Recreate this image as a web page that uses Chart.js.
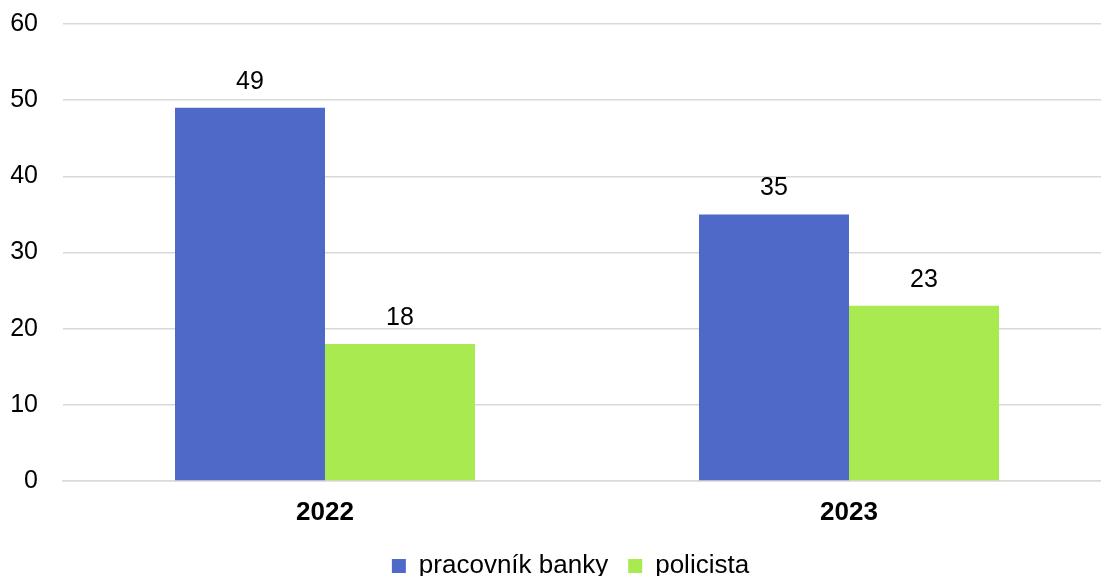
<!DOCTYPE html>
<html>
<head>
<meta charset="utf-8">
<script src="https://cdn.jsdelivr.net/npm/chart.js@4"></script>
<style>
  html, body { margin: 0; padding: 0; background: #fff; overflow: hidden; }
  #wrap { width: 1111px; height: 589px; }
</style>
</head>
<body>
<div id="wrap"><canvas id="myChart"></canvas></div>
<script>
const years = ['2022', '2023'];
const bankWorker = [49, 35];
const policeman = [18, 23];
const yTicks = [0, 10, 20, 30, 40, 50, 60];

Chart.defaults.font.family = '"Liberation Sans", Arial, sans-serif';
Chart.defaults.color = '#000';

// value labels above each bar
const barLabels = {
  id: 'barLabels',
  afterDatasetsDraw(chart) {
    const ctx = chart.ctx;
    ctx.save();
    ctx.font = '25px "Liberation Sans", Arial, sans-serif';
    ctx.fillStyle = '#000';
    ctx.textAlign = 'center';
    ctx.textBaseline = 'middle';
    chart.data.datasets.forEach((ds, i) => {
      chart.getDatasetMeta(i).data.forEach((bar, j) => {
        ctx.fillText(ds.data[j], bar.x, bar.y - 26);
      });
    });
    ctx.restore();
  }
};

// nudge the legend a bit to the right
const legendShift = {
  id: 'legendShift',
  afterLayout(chart) {
    chart.legend.left += 15;
    chart.legend.right += 15;
  }
};

const data = {
  labels: years,
  datasets: [{
    label: 'pracovník banky',
    data: bankWorker,
    backgroundColor: '#4F69C9'
  }, {
    label: 'policista',
    data: policeman,
    backgroundColor: '#A9EA50'
  }]
};

const config = {
  type: 'bar',
  data,
  options: {
    responsive: true,
    maintainAspectRatio: false,
    animation: false,
    layout: { padding: { top: 24, right: 0, left: 0, bottom: 0 } },
    datasets: {
      bar: { categoryPercentage: 0.5725, barPercentage: 1 }
    },
    scales: {
      x: {
        grid: { display: false, drawTicks: false },
        border: { color: '#d9d9d9', width: 1.5 },
        ticks: { padding: 16, font: { size: 26, weight: 'bold' } },
        afterFit(scale) { scale.height = 52; }
      },
      y: {
        min: 0,
        max: 60,
        afterBuildTicks(scale) { scale.ticks = yTicks.map(v => ({ value: v })); },
        grid: { color: '#d9d9d9', lineWidth: 1.5, drawTicks: false },
        border: { display: false },
        ticks: { padding: 25, font: { size: 25 } },
        afterFit(scale) {
          scale.width = 63;
          scale.paddingTop = 0;
          scale.paddingBottom = 0;
        }
      }
    },
    plugins: {
      legend: {
        position: 'bottom',
        labels: {
          boxWidth: 14,
          boxHeight: 14,
          padding: 20,
          font: { size: 26 }
        }
      },
      tooltip: { enabled: false }
    }
  },
  plugins: [barLabels, legendShift]
};

const myChart = new Chart(document.getElementById('myChart'), config);
</script>
</body>
</html>
